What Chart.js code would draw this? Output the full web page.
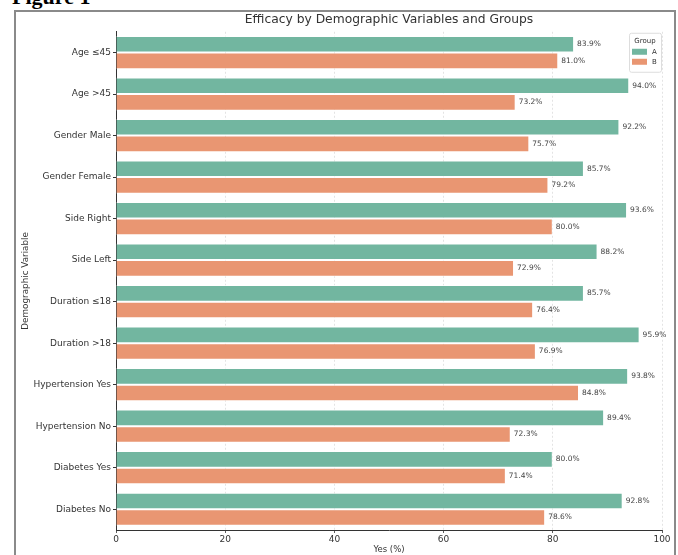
<!DOCTYPE html>
<html>
<head>
<meta charset="utf-8">
<script src="https://cdn.jsdelivr.net/npm/chart.js@4"></script>
<style>
  body { margin: 0; width: 678px; height: 555px; overflow: hidden; background: #fff; position: relative; }
  #fig { position: absolute; left: 12px; top: -14px; font: bold 22px "Liberation Serif", serif; line-height: 22px; color: #000; }
  #frame { position: absolute; left: 14px; top: 10px; width: 658px; height: 560px; border: 2px solid #8a8a8a; }
  #wrap { position: absolute; left: 0; top: 0; width: 678px; height: 555px; }
</style>
</head>
<body>
<div id="fig">Figure 1</div>
<div id="frame"></div>
<div id="wrap"><canvas id="myChart"></canvas></div>
<script>
// data
const categories = ['Age ≤45', 'Age >45', 'Gender Male', 'Gender Female', 'Side Right', 'Side Left',
    'Duration ≤18', 'Duration >18', 'Hypertension Yes', 'Hypertension No', 'Diabetes Yes', 'Diabetes No'];
const groupA = [83.9, 94.0, 92.2, 85.7, 93.6, 88.2, 85.7, 95.9, 93.8, 89.4, 80.0, 92.8];
const groupB = [81.0, 73.2, 75.7, 79.2, 80.0, 72.9, 76.4, 76.9, 84.8, 72.3, 71.4, 78.6];
const xTicks = [0, 20, 40, 60, 80, 100];

const colorA = '#72b6a0';
const colorB = '#e99672';
const textColor = '#333';

// value labels next to each bar
const valueLabels = {
    id: 'valueLabels',
    afterDatasetsDraw(chart) {
        const ctx = chart.ctx;
        ctx.save();
        ctx.font = '7.5px "DejaVu Sans"';
        ctx.fillStyle = '#444';
        ctx.textBaseline = 'middle';
        chart.data.datasets.forEach((ds, i) => {
            chart.getDatasetMeta(i).data.forEach((bar, j) => {
                ctx.fillText(ds.data[j].toFixed(1) + '%', bar.x + 3, bar.y);
            });
        });
        ctx.restore();
    }
};

// small legend box in the top right corner of the plot
const cornerLegend = {
    id: 'cornerLegend',
    afterDraw(chart) {
        const ctx = chart.ctx;
        const area = chart.chartArea;
        const w = 32, h = 39;
        const x = area.right - w - 1, y = area.top + 1;
        ctx.save();
        ctx.fillStyle = 'rgba(255,255,255,0.85)';
        ctx.strokeStyle = '#ddd';
        ctx.lineWidth = 1;
        ctx.beginPath();
        ctx.roundRect(x + 0.5, y + 0.5, w, h, 2);
        ctx.fill();
        ctx.stroke();
        ctx.fillStyle = textColor;
        ctx.font = '7px "DejaVu Sans"';
        ctx.textAlign = 'center';
        ctx.textBaseline = 'middle';
        ctx.fillText('Group', x + w / 2, y + 8);
        chart.data.datasets.forEach((ds, i) => {
            const yy = y + 19 + i * 10;
            ctx.fillStyle = ds.backgroundColor;
            ctx.fillRect(x + 3, yy - 3, 15, 6);
            ctx.fillStyle = textColor;
            ctx.textAlign = 'left';
            ctx.fillText(ds.label, x + 23, yy);
        });
        ctx.restore();
    }
};

const ctx = document.getElementById('myChart').getContext('2d');
const chart = new Chart(ctx, {
    type: 'bar',
    data: {
        labels: categories,
        datasets: [
            { label: 'A', data: groupA, backgroundColor: colorA, borderColor: 'rgba(255,255,255,0.7)', borderWidth: 1 },
            { label: 'B', data: groupB, backgroundColor: colorB, borderColor: 'rgba(255,255,255,0.7)', borderWidth: 1 }
        ]
    },
    options: {
        indexAxis: 'y',
        responsive: true,
        maintainAspectRatio: false,
        animation: false,
        layout: { padding: { left: 18, right: 16, top: 10, bottom: 0 } },
        datasets: { bar: { categoryPercentage: 0.8, barPercentage: 1.0 } },
        plugins: {
            legend: { display: false },
            tooltip: { enabled: false },
            title: {
                display: true,
                fullSize: false,
                text: 'Efficacy by Demographic Variables and Groups',
                color: textColor,
                font: { family: 'DejaVu Sans', size: 12.3, weight: 'normal' },
                padding: { top: 2, bottom: 5 }
            }
        },
        scales: {
            x: {
                min: 0,
                max: 100,
                afterBuildTicks: (scale) => { scale.ticks = xTicks.map(v => ({ value: v })); },
                afterFit: (scale) => { scale.height = 25; },
                ticks: { color: textColor, font: { family: 'DejaVu Sans', size: 9 }, padding: 1, maxRotation: 0 },
                grid: { color: '#dcdcdc', lineWidth: 0.8, tickLength: 3, tickColor: '#333' },
                border: { display: true, color: '#333', width: 1, dash: [2, 2] },
                title: { display: true, text: 'Yes (%)', color: textColor, font: { family: 'DejaVu Sans', size: 8.5 }, padding: { top: 0, bottom: 0 } }
            },
            y: {
                afterFit: (scale) => { scale.width = 98; },
                ticks: { color: textColor, font: { family: 'DejaVu Sans', size: 9 }, padding: 2 },
                grid: { offset: false, drawOnChartArea: false, tickLength: 3, tickColor: '#333' },
                border: { display: true, color: '#333', width: 1 },
                title: { display: true, text: 'Demographic Variable', color: textColor, font: { family: 'DejaVu Sans', size: 8.8 }, padding: { top: 2, bottom: 0 } }
            }
        }
    },
    plugins: [valueLabels, cornerLegend]
});
</script>
</body>
</html>
